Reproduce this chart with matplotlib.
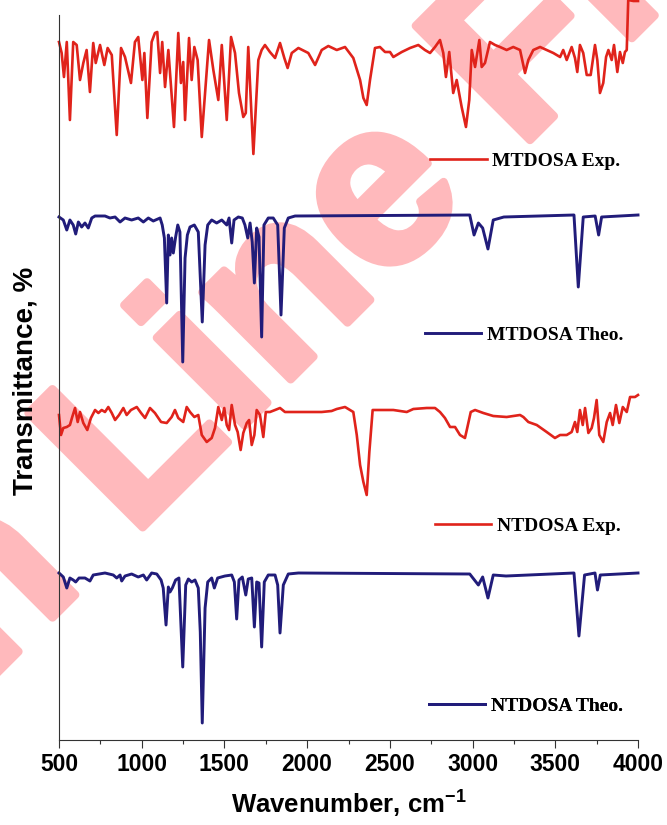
import matplotlib
matplotlib.use('Agg')
import matplotlib.pyplot as plt
from matplotlib import patheffects
from matplotlib.lines import Line2D
from matplotlib.ticker import MultipleLocator

plt.rcParams['font.family'] = 'Liberation Sans'
plt.rcParams['mathtext.fontset'] = 'custom'
plt.rcParams['mathtext.rm'] = 'Liberation Sans:bold'
plt.rcParams['mathtext.bf'] = 'Liberation Sans:bold'

# stacked transmittance (arbitrary units, offset per trace)
wn_mtdosa_exp = [500, 516, 530, 547, 566, 586, 607, 627, 647, 667,
                 687, 707, 722, 748, 774, 794, 819, 849, 875, 899,
                 935, 959, 979, 1004, 1016, 1034, 1060, 1080, 1094, 1111,
                 1124, 1141, 1161, 1195, 1221, 1237, 1251, 1262, 1286, 1302,
                 1318, 1338, 1363, 1407, 1433, 1463, 1484, 1514, 1540, 1564,
                 1588, 1614, 1629, 1644, 1675, 1705, 1725, 1745, 1775, 1806,
                 1836, 1862, 1882, 1907, 1947, 2007, 2048, 2088, 2128, 2179,
                 2229, 2279, 2320, 2340, 2360, 2380, 2410, 2440, 2471, 2501,
                 2521, 2572, 2622, 2672, 2712, 2743, 2773, 2803, 2823, 2839,
                 2859, 2883, 2904, 2934, 2960, 2980, 2995, 3015, 3041, 3055,
                 3075, 3105, 3136, 3166, 3206, 3246, 3287, 3317, 3337, 3367,
                 3408, 3448, 3488, 3529, 3548, 3569, 3599, 3619, 3633, 3649,
                 3669, 3690, 3714, 3740, 3754, 3770, 3790, 3807, 3821, 3841,
                 3855, 3875, 3891, 3908, 3921, 3932, 3941, 3972, 4000]
t_mtdosa_exp = [698, 687, 663, 698, 620, 698, 695, 660, 677, 690,
                648, 697, 677, 695, 675, 692, 685, 605, 692, 683,
                657, 698, 703, 660, 687, 622, 698, 707, 708, 667,
                698, 653, 690, 613, 707, 657, 678, 620, 702, 660,
                693, 680, 603, 700, 670, 640, 695, 620, 703, 687,
                647, 623, 627, 693, 586, 680, 690, 695, 688, 682,
                697, 682, 672, 687, 692, 687, 675, 690, 694, 690,
                693, 682, 660, 642, 635, 660, 692, 693, 688, 688,
                683, 688, 692, 695, 690, 687, 693, 700, 687, 663,
                688, 647, 660, 633, 613, 640, 690, 673, 700, 673,
                677, 698, 695, 693, 690, 693, 690, 667, 680, 690,
                693, 690, 687, 683, 690, 680, 693, 682, 668, 695,
                687, 665, 665, 695, 680, 647, 657, 683, 690, 680,
                695, 668, 688, 677, 688, 690, 740, 739, 739]

wn_mtdosa_theo = [500, 526, 547, 566, 586, 601, 617, 637, 657, 677,
                  698, 718, 778, 808, 839, 869, 899, 939, 979, 1010,
                  1040, 1070, 1111, 1124, 1137, 1151, 1161, 1171, 1181, 1191,
                  1205, 1218, 1231, 1248, 1262, 1276, 1292, 1318, 1342, 1366,
                  1383, 1399, 1423, 1453, 1484, 1514, 1528, 1544, 1558, 1584,
                  1608, 1624, 1641, 1655, 1668, 1681, 1695, 1709, 1725, 1739,
                  1765, 1795, 1822, 1842, 1862, 1886, 1927, 2983, 3009, 3035,
                  3061, 3093, 3125, 3189, 3613, 3639, 3669, 3741, 3762, 3780,
                  4000]
t_mtdosa_theo = [523, 520, 510, 520, 515, 506, 518, 513, 517, 512,
                 522, 524, 524, 522, 523, 518, 522, 520, 522, 518,
                 522, 519, 522, 515, 502, 437, 505, 485, 502, 487,
                 503, 515, 508, 378, 482, 505, 513, 515, 508, 418,
                 495, 515, 520, 517, 520, 515, 522, 497, 520, 523,
                 522, 515, 502, 517, 498, 457, 512, 503, 403, 515,
                 522, 522, 515, 425, 512, 522, 524, 525, 505, 517,
                 512, 491, 520, 523, 525, 453, 523, 524, 505, 523,
                 525]

wn_ntdosa_exp = [500, 512, 526, 547, 566, 580, 597, 613, 627, 647,
                 671, 693, 718, 738, 758, 778, 798, 819, 839, 863,
                 889, 909, 935, 970, 996, 1020, 1050, 1080, 1117, 1151,
                 1181, 1201, 1221, 1251, 1272, 1292, 1318, 1342, 1363, 1393,
                 1423, 1443, 1463, 1484, 1499, 1514, 1528, 1544, 1564, 1580,
                 1598, 1614, 1635, 1649, 1665, 1681, 1695, 1715, 1735, 1750,
                 1775, 1806, 1836, 1866, 1927, 2007, 2088, 2148, 2179, 2229,
                 2279, 2300, 2320, 2340, 2360, 2376, 2396, 2460, 2521, 2602,
                 2642, 2723, 2773, 2803, 2833, 2864, 2894, 2924, 2954, 2965,
                 2989, 3015, 3065, 3125, 3206, 3287, 3307, 3337, 3388, 3448,
                 3498, 3529, 3569, 3599, 3619, 3633, 3649, 3666, 3680, 3700,
                 3720, 3734, 3750, 3766, 3790, 3811, 3831, 3847, 3867, 3887,
                 3908, 3932, 3952, 3982, 4000]
t_ntdosa_exp = [325, 305, 312, 313, 315, 323, 332, 318, 328, 317,
                310, 322, 330, 327, 330, 328, 333, 327, 320, 325,
                332, 325, 330, 333, 327, 322, 332, 327, 318, 317,
                323, 330, 322, 318, 333, 328, 323, 325, 305, 298,
                302, 312, 333, 320, 332, 315, 310, 335, 315, 308,
                290, 307, 317, 320, 295, 305, 330, 325, 303, 328,
                328, 330, 332, 328, 328, 328, 328, 329, 331, 333,
                328, 305, 275, 258, 245, 288, 330, 330, 330, 328,
                331, 332, 332, 328, 322, 313, 313, 305, 302, 310,
                328, 330, 327, 324, 323, 325, 323, 318, 315, 308,
                302, 305, 305, 308, 318, 308, 330, 315, 332, 307,
                312, 322, 340, 305, 298, 318, 327, 315, 335, 317,
                333, 328, 343, 343, 345]

wn_ntdosa_theo = [500, 526, 547, 566, 586, 601, 621, 657, 687, 707,
                  778, 828, 849, 869, 879, 899, 939, 979, 1010, 1030,
                  1060, 1091, 1117, 1130, 1147, 1161, 1171, 1185, 1205, 1225,
                  1248, 1266, 1282, 1302, 1322, 1342, 1354, 1366, 1383, 1399,
                  1423, 1439, 1459, 1503, 1544, 1560, 1574, 1588, 1608, 1629,
                  1644, 1665, 1681, 1695, 1709, 1725, 1741, 1765, 1806, 1822,
                  1836, 1856, 1886, 1947, 2983, 3035, 3061, 3093, 3125, 3202,
                  3613, 3643, 3677, 3740, 3755, 3772, 4000]
t_ntdosa_theo = [167, 163, 152, 162, 160, 158, 162, 162, 159, 165,
                 167, 165, 162, 165, 159, 164, 166, 163, 165, 160,
                 167, 166, 160, 152, 115, 153, 148, 152, 160, 162,
                 73, 155, 161, 158, 160, 152, 108, 17, 132, 158,
                 162, 152, 162, 164, 165, 158, 121, 160, 163, 145,
                 161, 162, 113, 158, 157, 93, 158, 165, 165, 155,
                 107, 155, 166, 167, 166, 155, 163, 142, 165, 164,
                 167, 104, 165, 167, 150, 165, 167]

labels = ['MTDOSA Exp.', 'MTDOSA Theo.', 'NTDOSA Exp.', 'NTDOSA Theo.']

red = '#e0231b'
navy = '#211c7a'

fig = plt.figure(figsize=(6.67, 8.25), dpi=100)
ax = fig.add_axes([59 / 667, 85 / 825, 579 / 667, 740 / 825])
ax.set_facecolor('none')

# watermark, behind the axes
wm_color = '#ffb9bc'
fig.text(-145 / 667, 1 - 815 / 825, 'On Line First', rotation=45,
         rotation_mode='anchor', ha='left', va='baseline', fontsize=169,
         fontweight='bold', color=wm_color, zorder=-1,
         path_effects=[patheffects.Stroke(linewidth=6, foreground=wm_color,
                                          joinstyle='round'),
                       patheffects.Normal()])

series = [(wn_mtdosa_exp, t_mtdosa_exp, red, 1.9),
          (wn_mtdosa_theo, t_mtdosa_theo, navy, 2.1),
          (wn_ntdosa_exp, t_ntdosa_exp, red, 1.9),
          (wn_ntdosa_theo, t_ntdosa_theo, navy, 2.1)]
for wn, t, c, lw in series:
    ax.plot(wn, t, color=c, lw=lw, solid_joinstyle='round', clip_on=False)

ax.set_xlim(500, 4000)
ax.set_ylim(0, 740)
ax.spines['top'].set_visible(False)
ax.spines['right'].set_visible(False)
ax.spines['left'].set_bounds(0, 725)
for s in ['left', 'bottom']:
    ax.spines[s].set_linewidth(0.8)
    ax.spines[s].set_color('#333333')
ax.set_yticks([])
ax.xaxis.set_major_locator(MultipleLocator(500))
ax.xaxis.set_minor_locator(MultipleLocator(250))
ax.tick_params(axis='x', which='major', direction='out', length=5.5, width=0.8,
               labelsize=16.5, pad=4, color='#333333')
ax.tick_params(axis='x', which='minor', direction='out', length=3, width=0.8,
               color='#333333')
for lbl in ax.get_xticklabels():
    lbl.set_fontweight('bold')

ax.set_xlabel(r'Wavenumber, cm$^{-1}$', fontsize=18.5, fontweight='bold', labelpad=8)
ax.set_ylabel('Transmittance, %', fontsize=20, fontweight='bold')
ax.yaxis.set_label_coords(-0.035, 0.485)

# one small legend per trace
anchors = [(0.641, 0.782), (0.632, 0.547), (0.649, 0.289), (0.639, 0.046)]
for (wn, t, c, lw), lab, anc in zip(series, labels, anchors):
    leg = ax.legend(handles=[Line2D([], [], color=c, lw=lw)], labels=[lab],
                    loc='center left', bbox_to_anchor=anc, frameon=False,
                    borderpad=0, borderaxespad=0, handlelength=2.9,
                    handletextpad=0.3,
                    prop={'family': 'Liberation Serif', 'weight': 'bold', 'size': 14})
    ax.add_artist(leg)

fig.savefig('out.png', dpi=100)
